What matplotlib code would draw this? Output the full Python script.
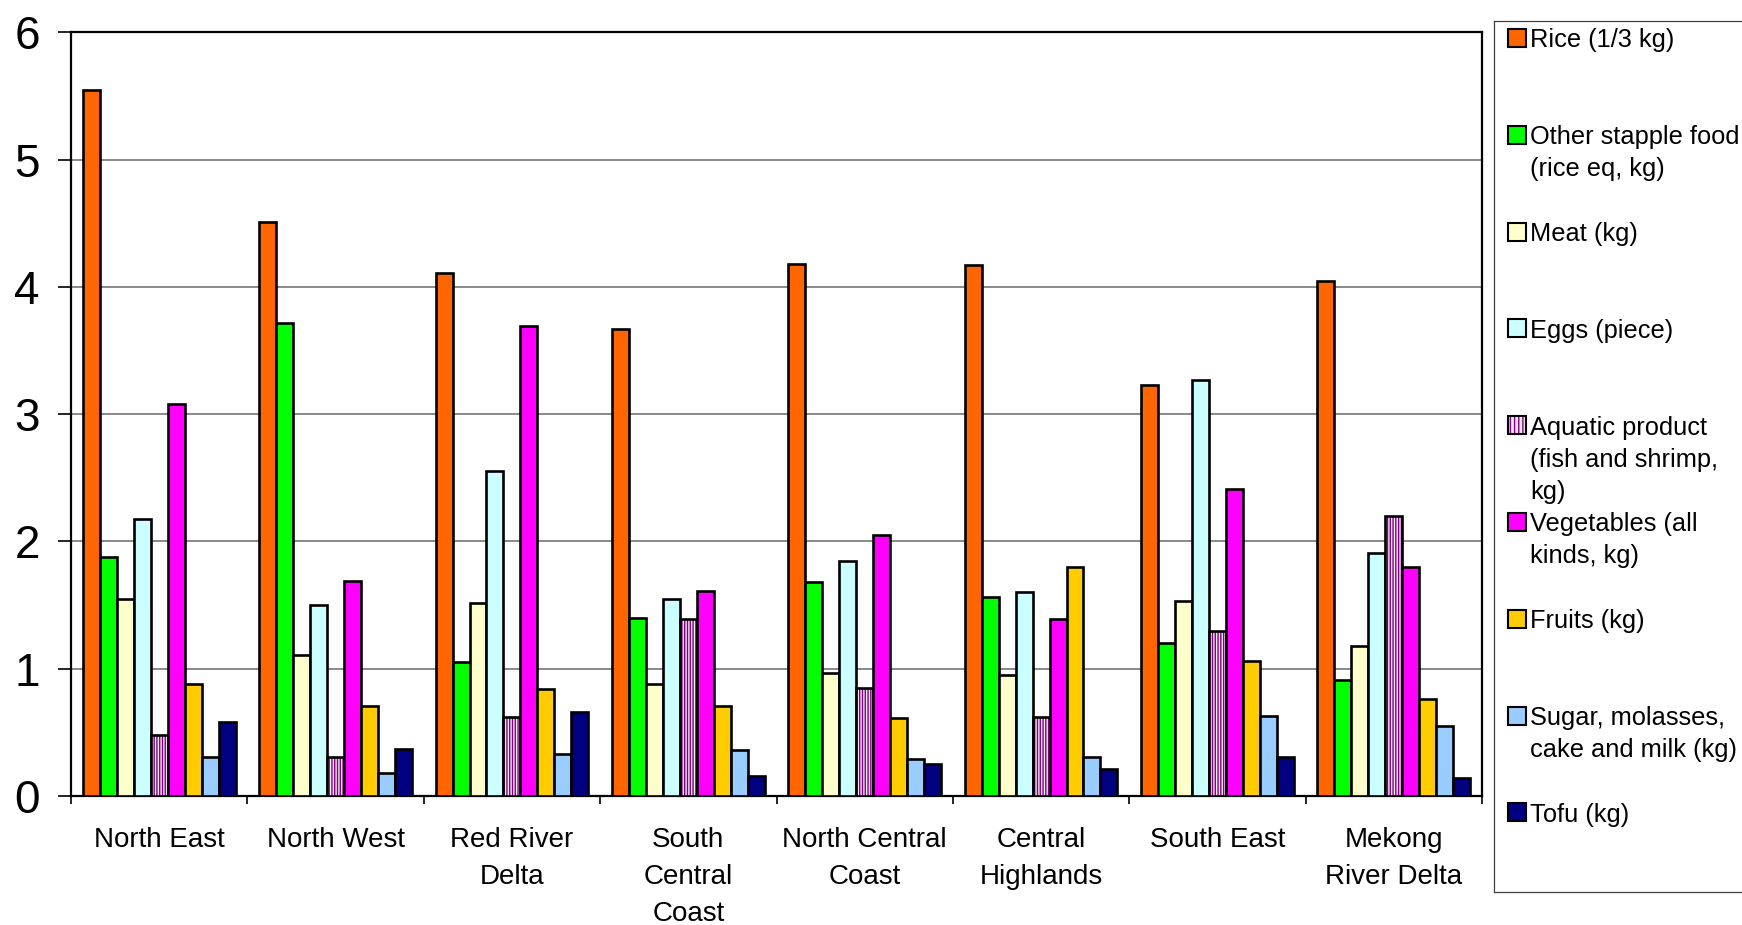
import numpy as np
import matplotlib
matplotlib.use("Agg")
import matplotlib.pyplot as plt
from matplotlib.patches import Rectangle

plt.rcParams['font.family'] = ['Liberation Sans', 'DejaVu Sans']

regions = ["North East", "North West", "Red River\nDelta", "South\nCentral\nCoast",
           "North Central\nCoast", "Central\nHighlands", "South East", "Mekong\nRiver Delta"]

series_names = ["Rice (1/3 kg)", "Other stapple food\n(rice eq, kg)", "Meat (kg)",
                "Eggs (piece)", "Aquatic product\n(fish and shrimp,\nkg)",
                "Vegetables (all\nkinds, kg)", "Fruits (kg)",
                "Sugar, molasses,\ncake and milk (kg)", "Tofu (kg)"]

rice = [5.55, 4.51, 4.11, 3.67, 4.18, 4.17, 3.23, 4.05]
other_staple = [1.88, 3.72, 1.05, 1.40, 1.68, 1.56, 1.20, 0.91]
meat = [1.55, 1.11, 1.52, 0.88, 0.97, 0.95, 1.53, 1.18]
eggs = [2.18, 1.50, 2.55, 1.55, 1.85, 1.60, 3.27, 1.91]
aquatic = [0.48, 0.31, 0.62, 1.39, 0.85, 0.62, 1.30, 2.20]
vegetables = [3.08, 1.69, 3.69, 1.61, 2.05, 1.39, 2.41, 1.80]
fruits = [0.88, 0.71, 0.84, 0.71, 0.61, 1.80, 1.06, 0.76]
sugar = [0.31, 0.18, 0.33, 0.36, 0.29, 0.31, 0.63, 0.55]
tofu = [0.58, 0.37, 0.66, 0.16, 0.25, 0.21, 0.31, 0.14]

all_values = [rice, other_staple, meat, eggs, aquatic, vegetables, fruits, sugar, tofu]
colors = ["#FF6600", "#00FF00", "#FFFFCC", "#CCFFFF", "#F4E8F4",
          "#FF00FF", "#FFCC00", "#99CCFF", "#000080"]
hatches = [None, None, None, None, "||||||", None, None, None, None]
hatch_color = "#800080"

W, H = 1742, 925
fig = plt.figure(figsize=(W / 100, H / 100), dpi=100)

# plot area in pixel terms of the original
left, right, top, bottom = 71, 1482, 32.3, 796
ax = fig.add_axes([left / W, 1 - bottom / H, (right - left) / W, (bottom - top) / H])

x = np.arange(len(regions))
n = len(all_values)
width = 1 / 10.4
for i, vals in enumerate(all_values):
    pos = x + (i - (n - 1) / 2) * width
    if hatches[i]:
        # hatch takes the edge colour, so fill+hatch first, then a black outline
        ax.bar(pos, vals, width, color=colors[i], edgecolor=hatch_color,
               hatch=hatches[i], linewidth=0, zorder=3)
        ax.bar(pos, vals, width, fill=False, edgecolor="black",
               linewidth=1.9, zorder=3)
    else:
        ax.bar(pos, vals, width, color=colors[i], edgecolor="black",
               linewidth=1.9, zorder=3)

ax.set_xlim(-0.5, len(regions) - 0.5)
ax.set_ylim(0, 6)
ax.set_yticks(range(0, 7))
ax.yaxis.grid(True, color="#808080", linewidth=1.3)
ax.set_axisbelow(True)

ax.set_xticks(x)
ax.set_xticklabels(regions, fontsize=20, linespacing=1.55)
ax.set_xticks(np.arange(len(regions) + 1) - 0.5, minor=True)
ax.tick_params(axis="x", which="major", length=0, pad=22)
ax.tick_params(axis="x", which="minor", length=6, width=1.2, direction="out")
ax.tick_params(axis="y", length=9.5, width=1.2, labelsize=33, pad=13)

for s in ax.spines.values():
    s.set_linewidth(1.6)
    s.set_color("black")

# legend box, drawn in pixel units
lx0, ly0, lx1, ly1 = 1494, 20.7, 1760, 892
lax = fig.add_axes([lx0 / W, 1 - ly1 / H, (lx1 - lx0) / W, (ly1 - ly0) / H])
lax.set_xlim(0, lx1 - lx0)
lax.set_ylim(ly1 - ly0, 0)
lax.set_xticks([])
lax.set_yticks([])
for s in lax.spines.values():
    s.set_linewidth(0.9)
    s.set_color("#404040")

step = 96.8
for i, name in enumerate(series_names):
    y0 = 8.3 + i * step
    if hatches[i]:
        lax.add_patch(Rectangle((14, y0), 18, 18, facecolor=colors[i],
                                edgecolor=hatch_color, hatch="||||", linewidth=0))
        lax.add_patch(Rectangle((14, y0), 18, 18, fill=False,
                                edgecolor="black", linewidth=1.5))
    else:
        lax.add_patch(Rectangle((14, y0), 18, 18, facecolor=colors[i],
                                edgecolor="black", linewidth=1.5))
    lax.text(36, y0 - 0.5, name, fontsize=18.3, va="top", ha="left",
             linespacing=1.42)

fig.savefig("out.png", dpi=100)
